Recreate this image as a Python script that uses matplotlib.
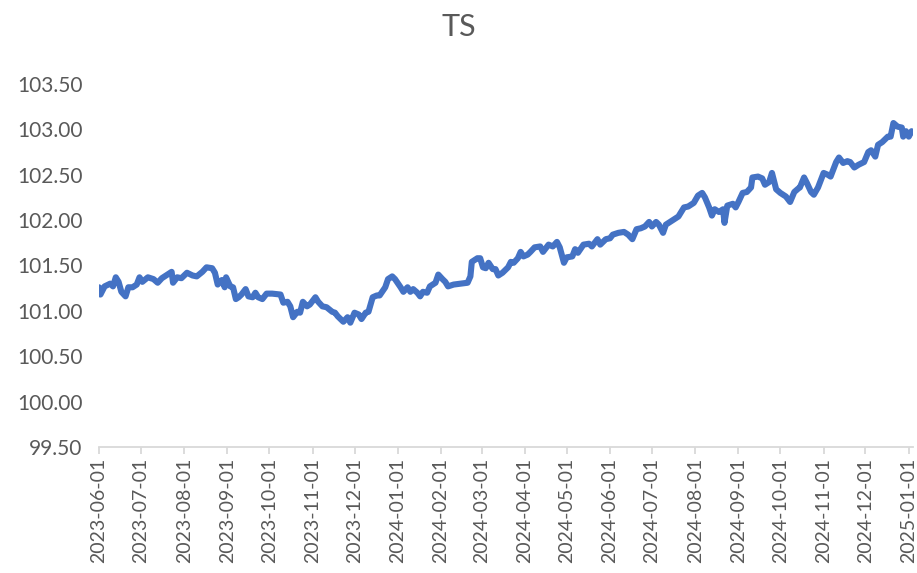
import matplotlib
matplotlib.use("Agg")
import matplotlib.pyplot as plt
import matplotlib.dates as mdates
import pandas as pd

# TS series, values
dates = [
    "2023-06-01", "2023-06-02", "2023-06-05", "2023-06-09", "2023-06-11", "2023-06-13",
    "2023-06-15", "2023-06-17", "2023-06-20", "2023-06-22", "2023-06-25", "2023-06-28",
    "2023-06-30", "2023-07-02", "2023-07-06", "2023-07-10", "2023-07-13", "2023-07-16",
    "2023-07-20", "2023-07-23", "2023-07-24", "2023-07-27", "2023-07-30", "2023-08-03",
    "2023-08-07", "2023-08-10", "2023-08-14", "2023-08-17", "2023-08-21", "2023-08-23",
    "2023-08-25", "2023-08-28", "2023-08-30", "2023-08-31", "2023-09-03", "2023-09-05",
    "2023-09-07", "2023-09-09", "2023-09-11", "2023-09-14", "2023-09-16", "2023-09-19",
    "2023-09-21", "2023-09-23", "2023-09-26", "2023-09-29", "2023-10-03", "2023-10-09",
    "2023-10-11", "2023-10-14", "2023-10-16", "2023-10-18", "2023-10-21", "2023-10-23",
    "2023-10-25", "2023-10-28", "2023-10-30", "2023-11-03", "2023-11-05", "2023-11-08",
    "2023-11-11", "2023-11-15", "2023-11-17", "2023-11-19", "2023-11-23", "2023-11-26",
    "2023-11-28", "2023-12-01", "2023-12-04", "2023-12-06", "2023-12-09", "2023-12-11",
    "2023-12-14", "2023-12-17", "2023-12-19", "2023-12-23", "2023-12-25", "2023-12-28",
    "2023-12-30", "2024-01-03", "2024-01-05", "2024-01-08", "2024-01-10", "2024-01-12",
    "2024-01-15", "2024-01-17", "2024-01-19", "2024-01-22", "2024-01-24", "2024-01-28",
    "2024-01-30", "2024-02-02", "2024-02-04", "2024-02-06", "2024-02-10", "2024-02-15",
    "2024-02-20", "2024-02-22", "2024-02-23", "2024-02-27", "2024-02-29", "2024-03-02",
    "2024-03-04", "2024-03-06", "2024-03-09", "2024-03-11", "2024-03-13", "2024-03-16",
    "2024-03-20", "2024-03-22", "2024-03-24", "2024-03-27", "2024-03-29", "2024-03-31",
    "2024-04-03", "2024-04-05", "2024-04-08", "2024-04-12", "2024-04-14", "2024-04-18",
    "2024-04-21", "2024-04-24", "2024-04-26", "2024-04-29", "2024-05-01", "2024-05-05",
    "2024-05-07", "2024-05-09", "2024-05-13", "2024-05-17", "2024-05-19", "2024-05-23",
    "2024-05-25", "2024-05-29", "2024-06-01", "2024-06-03", "2024-06-07", "2024-06-11",
    "2024-06-14", "2024-06-17", "2024-06-20", "2024-06-23", "2024-06-26", "2024-06-29",
    "2024-07-01", "2024-07-04", "2024-07-06", "2024-07-09", "2024-07-11", "2024-07-14",
    "2024-07-18", "2024-07-20", "2024-07-24", "2024-07-27", "2024-07-31", "2024-08-03",
    "2024-08-06", "2024-08-08", "2024-08-11", "2024-08-13", "2024-08-15", "2024-08-18",
    "2024-08-21", "2024-08-22", "2024-08-24", "2024-08-28", "2024-08-30", "2024-09-01",
    "2024-09-04", "2024-09-07", "2024-09-10", "2024-09-11", "2024-09-15", "2024-09-18",
    "2024-09-20", "2024-09-23", "2024-09-25", "2024-09-28", "2024-10-01", "2024-10-05",
    "2024-10-08", "2024-10-11", "2024-10-14", "2024-10-15", "2024-10-18", "2024-10-20",
    "2024-10-23", "2024-10-25", "2024-10-28", "2024-11-01", "2024-11-04", "2024-11-06",
    "2024-11-10", "2024-11-12", "2024-11-15", "2024-11-18", "2024-11-20", "2024-11-23",
    "2024-11-26", "2024-11-30", "2024-12-03", "2024-12-05", "2024-12-08", "2024-12-10",
    "2024-12-13", "2024-12-17", "2024-12-19", "2024-12-21", "2024-12-24", "2024-12-27",
    "2024-12-28", "2024-12-30", "2025-01-01", "2025-01-03", "2025-01-04",
]
values = [
    101.26, 101.18, 101.27, 101.30, 101.27, 101.37,
    101.32, 101.21, 101.16, 101.26, 101.26, 101.29,
    101.37, 101.32, 101.37, 101.35, 101.31, 101.36,
    101.40, 101.43, 101.31, 101.37, 101.36, 101.42,
    101.39, 101.38, 101.43, 101.48, 101.47, 101.42,
    101.29, 101.34, 101.26, 101.37, 101.27, 101.26,
    101.13, 101.15, 101.18, 101.24, 101.16, 101.15,
    101.20, 101.15, 101.13, 101.19, 101.19, 101.18,
    101.09, 101.10, 101.05, 100.93, 100.99, 100.98,
    101.10, 101.05, 101.07, 101.15, 101.10, 101.05,
    101.04, 100.99, 100.98, 100.94, 100.88, 100.93,
    100.87, 100.98, 100.96, 100.91, 100.98, 100.99,
    101.15, 101.17, 101.17, 101.26, 101.35, 101.38,
    101.35, 101.26, 101.21, 101.26, 101.21, 101.24,
    101.20, 101.16, 101.21, 101.20, 101.27, 101.31,
    101.40, 101.35, 101.32, 101.27, 101.29, 101.30,
    101.31, 101.38, 101.54, 101.58, 101.58, 101.48,
    101.47, 101.53, 101.46, 101.46, 101.39, 101.42,
    101.48, 101.54, 101.53, 101.58, 101.65, 101.60,
    101.62, 101.65, 101.70, 101.71, 101.65, 101.73,
    101.71, 101.76, 101.70, 101.53, 101.59, 101.60,
    101.68, 101.64, 101.73, 101.74, 101.71, 101.79,
    101.73, 101.79, 101.80, 101.84, 101.86, 101.87,
    101.84, 101.79, 101.90, 101.91, 101.93, 101.98,
    101.93, 101.98, 101.95, 101.86, 101.95, 101.98,
    102.02, 102.04, 102.14, 102.15, 102.19, 102.27,
    102.30, 102.25, 102.14, 102.05, 102.12, 102.09,
    102.12, 101.97, 102.16, 102.18, 102.14, 102.20,
    102.30, 102.31, 102.36, 102.47, 102.48, 102.46,
    102.39, 102.42, 102.52, 102.34, 102.30, 102.26,
    102.20, 102.31, 102.35, 102.36, 102.47, 102.41,
    102.31, 102.28, 102.36, 102.52, 102.50, 102.48,
    102.64, 102.69, 102.63, 102.65, 102.64, 102.58,
    102.61, 102.64, 102.75, 102.77, 102.70, 102.83,
    102.86, 102.92, 102.92, 103.07, 103.03, 103.02,
    102.92, 102.98, 102.92, 102.98, 102.97,
]

title = "TS"
y_ticks = [99.5, 100.0, 100.5, 101.0, 101.5, 102.0, 102.5, 103.0, 103.5]

plt.rcParams['font.family'] = ['Lato', 'DejaVu Sans']

x = pd.to_datetime(dates)

fig = plt.figure(figsize=(9.17, 5.73), dpi=100)
ax = fig.add_axes((0.108, 0.2199, 0.8876, 0.6335))

ax.plot(x, values, color="#4472C4", linewidth=4.4, solid_capstyle="round",
        solid_joinstyle="round")

ax.set_ylim(99.5, 103.5)
ax.set_yticks(y_ticks)
ax.set_yticklabels([f"{v:.2f}" for v in y_ticks])
ax.set_xlim(pd.Timestamp("2023-06-01"), x[-1])
ax.xaxis.set_major_locator(mdates.MonthLocator())
ax.xaxis.set_major_formatter(mdates.DateFormatter("%Y-%m-%d"))

for s in ("top", "right", "left"):
    ax.spines[s].set_visible(False)
ax.spines["bottom"].set_color("#D9D9D9")
ax.spines["bottom"].set_linewidth(1.3)

ax.tick_params(axis="y", length=0, pad=12, labelsize=15, labelcolor="#595959")
ax.tick_params(axis="x", length=5, width=1.3, color="#D9D9D9", pad=3,
               labelsize=14, labelcolor="#595959", labelrotation=90)

fig.text(0.5, 0.953, title, ha="center", va="center", fontsize=22, color="#595959")

fig.savefig("out.png", dpi=100)
